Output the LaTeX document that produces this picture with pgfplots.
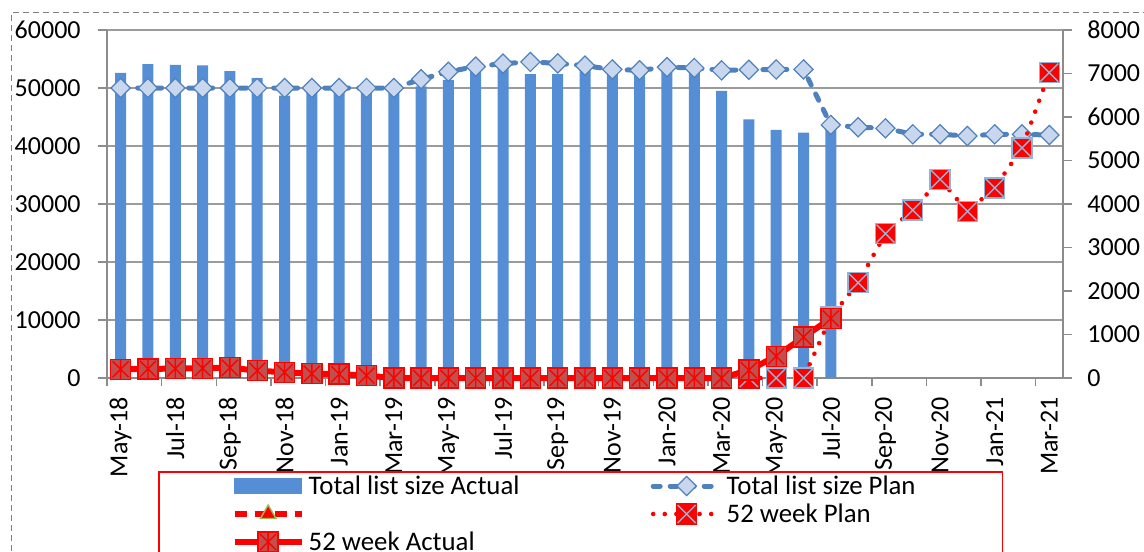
\documentclass[border=0pt]{standalone}
\usepackage{fontspec}
\setmainfont{Carlito}
\usepackage{pgfplots}
\pgfplotsset{compat=1.18}
\definecolor{barblue}{RGB}{85,142,213}
\definecolor{planblue}{RGB}{79,129,189}
\definecolor{diafill}{RGB}{200,215,237}
\definecolor{darkredfill}{RGB}{192,80,77}
\definecolor{xblue}{RGB}{149,179,215}
\definecolor{axgray}{RGB}{140,140,140}
\definecolor{gridgray}{RGB}{155,155,155}
\definecolor{olivegreen}{RGB}{155,187,89}
\definecolor{outergray}{RGB}{128,128,128}

\pgfdeclareplotmark{sqast}{%
  \pgfpathrectangle{\pgfqpoint{-\pgfplotmarksize}{-\pgfplotmarksize}}{\pgfqpoint{2\pgfplotmarksize}{2\pgfplotmarksize}}%
  \pgfusepathqfillstroke
  \pgfpathmoveto{\pgfqpoint{0pt}{-\pgfplotmarksize}}\pgfpathlineto{\pgfqpoint{0pt}{\pgfplotmarksize}}%
  \pgfpathmoveto{\pgfqpoint{-0.8\pgfplotmarksize}{-0.8\pgfplotmarksize}}\pgfpathlineto{\pgfqpoint{0.8\pgfplotmarksize}{0.8\pgfplotmarksize}}%
  \pgfpathmoveto{\pgfqpoint{-0.8\pgfplotmarksize}{0.8\pgfplotmarksize}}\pgfpathlineto{\pgfqpoint{0.8\pgfplotmarksize}{-0.8\pgfplotmarksize}}%
  \pgfusepathqstroke
}
\pgfdeclareplotmark{sqx}{%
  \pgfpathrectangle{\pgfqpoint{-\pgfplotmarksize}{-\pgfplotmarksize}}{\pgfqpoint{2\pgfplotmarksize}{2\pgfplotmarksize}}%
  \pgfusepathqfillstroke
  \pgfsetstrokecolor{xblue}%
  \pgfpathmoveto{\pgfqpoint{-0.9\pgfplotmarksize}{-0.9\pgfplotmarksize}}\pgfpathlineto{\pgfqpoint{0.9\pgfplotmarksize}{0.9\pgfplotmarksize}}%
  \pgfpathmoveto{\pgfqpoint{-0.9\pgfplotmarksize}{0.9\pgfplotmarksize}}\pgfpathlineto{\pgfqpoint{0.9\pgfplotmarksize}{-0.9\pgfplotmarksize}}%
  \pgfusepathqstroke
}

\pgfplotsset{
  longline/.style={legend image code/.code={%
    \draw[mark repeat=2,mark phase=2,##1] plot coordinates {(0pt,0pt) (16.75pt,0pt) (33.5pt,0pt)};}},
  common/.style={
    at={(53.5pt,86.5pt)}, anchor=south west, scale only axis,
    width=478pt, height=174pt, clip=false,
    xmin=-0.5, xmax=34.5,
    tick align=outside, major tick length=4.5pt, minor tick length=4pt,
    tick style={draw=axgray, line width=0.75pt},
    axis line style={draw=axgray, line width=0.75pt},
    tick label style={font=\fontsize{13}{15}\selectfont},
    scaled y ticks=false,
    /pgf/number format/1000 sep={},
    /pgf/number format/assume math mode=true,
  },
  planblue line/.style={planblue, line width=2.5pt, line cap=round, dash pattern=on 3.5pt off 5pt,
    mark=square*, mark size=3.4pt, mark options={rotate=45, solid, line width=0.6pt, fill=diafill, draw=planblue}},
  wkplan line/.style={red, line width=2.3pt, line cap=round, dash pattern=on 0pt off 5.8pt,
    mark=sqx, mark size=5pt, mark options={solid, line cap=butt, line width=0.7pt, fill=red, draw=red}},
  wkact line/.style={red, line width=3pt, mark=sqast, mark size=5pt,
    mark options={solid, line width=0.7pt, fill=darkredfill, draw=red}},
}

\begin{document}
\begin{tikzpicture}
\useasboundingbox (0,0) rectangle (572pt,275.5pt);
\clip (0,0) rectangle (572pt,275.5pt);
\draw[outergray, line width=0.75pt, dash pattern=on 3pt off 2pt] (5.85pt,-20pt) -- (5.85pt,269.15pt) -- (600pt,269.15pt);

\begin{axis}[common,
  ymin=0, ymax=60000,
  axis x line*=bottom, axis y line*=left,
  ytick={0,10000,...,60000},
  yticklabel style={inner xsep=8.5pt},
  ymajorgrids, grid style={draw=gridgray, line width=0.75pt},
  xtick={0,2,...,34},
  xticklabels={May-18,Jul-18,Sep-18,Nov-18,Jan-19,Mar-19,May-19,Jul-19,Sep-19,Nov-19,Jan-20,Mar-20,May-20,Jul-20,Sep-20,Nov-20,Jan-21,Mar-21},
  minor xtick={-0.5,1.5,...,33.5},
  major x tick style={draw=none},
  x tick label style={rotate=90, anchor=east, inner xsep=5pt},
]
\addplot[ybar, bar width=5.5pt, fill=barblue, draw=none] coordinates {
(0,52600) (1,54100) (2,54000) (3,53900) (4,52900) (5,51700) (6,48700) (7,49800) (8,49800)
(9,49900) (10,50000) (11,50300) (12,51400) (13,53400) (14,53900) (15,52400) (16,52400)
(17,53500) (18,53000) (19,52800) (20,53300) (21,53200) (22,49500) (23,44600) (24,42800)
(25,42300) (26,43500)};
\addplot[planblue line] coordinates {
(0,50000) (1,50000) (2,50000) (3,50000) (4,50000) (5,50000) (6,50000) (7,50000) (8,50000)
(9,50000) (10,50000) (11,51500) (12,52800) (13,53700) (14,54200) (15,54500) (16,54250)
(17,53850) (18,53200) (19,53050) (20,53600) (21,53450) (22,53050) (23,53150) (24,53200)
(25,53200) (26,43640) (27,43240) (28,43060) (29,42020) (30,42020) (31,41730) (32,42020)
(33,42000) (34,41900)};
\end{axis}

\begin{axis}[common,
  ymin=0, ymax=8000,
  axis y line*=right, axis x line=none,
  ytick={0,1000,...,8000},
  yticklabel style={inner xsep=7.5pt},
  legend columns=2,
  legend cell align=left,
  legend style={at={(0.0537,-0.268)}, anchor=north west, draw=red, line width=0.75pt, fill=white,
    font=\fontsize{13.4}{15}\selectfont, inner xsep=36.3pt, inner ysep=0pt,
    column sep=2pt, row sep=0pt,
    nodes={inner sep=0pt, text height=11.2pt, text depth=2.8pt}},
]
\addlegendimage{legend image code/.code={\fill[barblue] (0pt,-3.75pt) rectangle (33.5pt,3.75pt);}}
\addlegendentry{\makebox[169pt][l]{Total list size Actual}}
\addlegendimage{longline, planblue line}
\addlegendentry{\makebox[101.7pt][l]{Total list size Plan}}
\addlegendimage{longline, red, line width=3pt, dash pattern=on 6pt off 4pt, mark=triangle*, mark size=4.5pt, mark options={solid, fill=red, draw=olivegreen, line width=0.7pt}}
\addlegendentry{\makebox[169pt][l]{}}
\addlegendimage{longline, wkplan line}
\addlegendentry{\makebox[101.7pt][l]{52 week Plan}}
\addlegendimage{longline, wkact line}
\addlegendentry{\makebox[169pt][l]{52 week Actual}}

\addplot[wkplan line, forget plot] coordinates {
(23,0) (24,0) (25,0) (26,1400) (27,2190) (28,3320) (29,3860) (30,4570) (31,3830) (32,4370) (33,5290) (34,7020)};
\addplot[wkact line, forget plot] coordinates {
(0,200) (1,210) (2,215) (3,225) (4,235) (5,170) (6,130) (7,100) (8,90) (9,55) (10,0) (11,0)
(12,0) (13,0) (14,0) (15,0) (16,0) (17,0) (18,0) (19,0) (20,0) (21,0) (22,0) (23,180)
(24,500) (25,940) (26,1370)};
\end{axis}
\end{tikzpicture}
\end{document}
